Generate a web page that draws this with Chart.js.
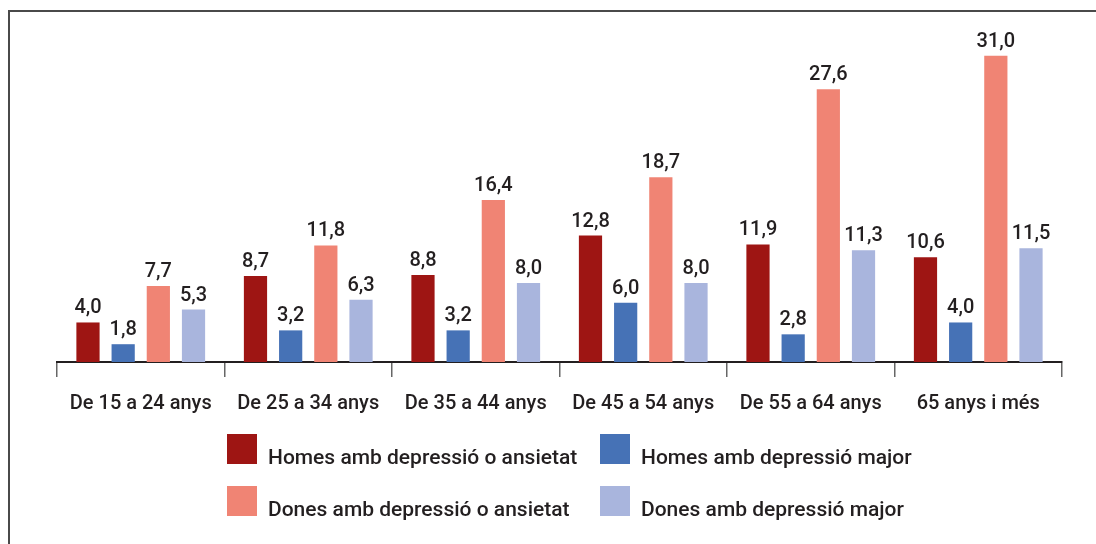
<!DOCTYPE html>
<html>
<head>
<meta charset="utf-8">
<script src="https://cdn.jsdelivr.net/npm/chart.js@4/dist/chart.umd.min.js"></script>
<style>
  html, body { margin: 0; padding: 0; background: #fff; }
  #wrap { width: 1096px; height: 544px; position: relative; }
</style>
</head>
<body>
<div id="wrap"><canvas id="depressio"></canvas></div>
<script>
  const categories = ['De 15 a 24 anys', 'De 25 a 34 anys', 'De 35 a 44 anys', 'De 45 a 54 anys', 'De 55 a 64 anys', '65 anys i més'];
  const seriesNames = ['Homes amb depressió o ansietat', 'Homes amb depressió major', 'Dones amb depressió o ansietat', 'Dones amb depressió major'];
  const homesAnsietat = [4.0, 8.7, 8.8, 12.8, 11.9, 10.6];
  const homesMajor = [1.8, 3.2, 3.2, 6.0, 2.8, 4.0];
  const donesAnsietat = [7.7, 11.8, 16.4, 18.7, 27.6, 31.0];
  const donesMajor = [5.3, 6.3, 8.0, 8.0, 11.3, 11.5];
  const colors = ['#9e1513', '#4672b6', '#f08474', '#a9b5dd'];

  const FONT = 'Roboto, "DejaVu Sans", sans-serif';
  const TEXT = '#231f20';

  // outer frame: left and top rule only
  const framePlugin = {
    id: 'frame',
    beforeDraw(chart) {
      const ctx = chart.ctx;
      ctx.save();
      ctx.strokeStyle = '#4a4a4a';
      ctx.lineWidth = 2;
      ctx.beginPath();
      ctx.moveTo(9, chart.height);
      ctx.lineTo(9, 11);
      ctx.lineTo(chart.width, 11);
      ctx.stroke();
      ctx.restore();
    }
  };

  // value on top of every bar, decimal comma
  const valuePlugin = {
    id: 'values',
    afterDatasetsDraw(chart) {
      const ctx = chart.ctx;
      ctx.save();
      ctx.font = '500 20px ' + FONT;
      ctx.fillStyle = TEXT;
      ctx.textAlign = 'center';
      ctx.textBaseline = 'alphabetic';
      chart.data.datasets.forEach((ds, i) => {
        chart.getDatasetMeta(i).data.forEach((bar, j) => {
          const txt = ds.data[j].toFixed(1).replace('.', ',');
          ctx.fillText(txt, bar.x, bar.y - 9);
        });
      });
      ctx.restore();
    }
  };

  // two-by-two legend under the axis
  const legendPlugin = {
    id: 'gridLegend',
    afterDraw(chart) {
      const ctx = chart.ctx;
      const cols = [227, 600];
      const rows = [434, 486];
      ctx.save();
      ctx.font = '500 21px ' + FONT;
      ctx.textBaseline = 'alphabetic';
      chart.data.datasets.forEach((ds, i) => {
        const x = cols[i % 2];
        const y = rows[Math.floor(i / 2)];
        ctx.fillStyle = ds.backgroundColor;
        ctx.fillRect(x, y, 30, 30);
        ctx.fillStyle = TEXT;
        ctx.fillText(ds.label, x + 41, y + 30);
      });
      ctx.restore();
    }
  };

  const seriesData = [homesAnsietat, homesMajor, donesAnsietat, donesMajor];

  new Chart(document.getElementById('depressio'), {
    type: 'bar',
    data: {
      labels: categories,
      datasets: seriesData.map((values, i) => ({
        label: seriesNames[i],
        data: values,
        backgroundColor: colors[i],
        borderWidth: 0,
        barPercentage: 0.66,
        categoryPercentage: 0.84
      }))
    },
    options: {
      responsive: true,
      maintainAspectRatio: false,
      animation: false,
      layout: { padding: { top: 26, left: 57, right: 34, bottom: 113 } },
      plugins: {
        legend: { display: false },
        tooltip: { enabled: false }
      },
      scales: {
        x: {
          border: { display: true, color: '#231f20', width: 2 },
          grid: {
            offset: true,
            drawOnChartArea: false,
            drawTicks: true,
            tickLength: 15,
            color: '#666',
            lineWidth: 1.5
          },
          ticks: {
            color: TEXT,
            padding: 15,
            font: { family: FONT, size: 20, weight: '500' }
          }
        },
        y: {
          display: false,
          min: 0,
          max: 34
        }
      }
    },
    plugins: [framePlugin, valuePlugin, legendPlugin]
  });
</script>
</body>
</html>
